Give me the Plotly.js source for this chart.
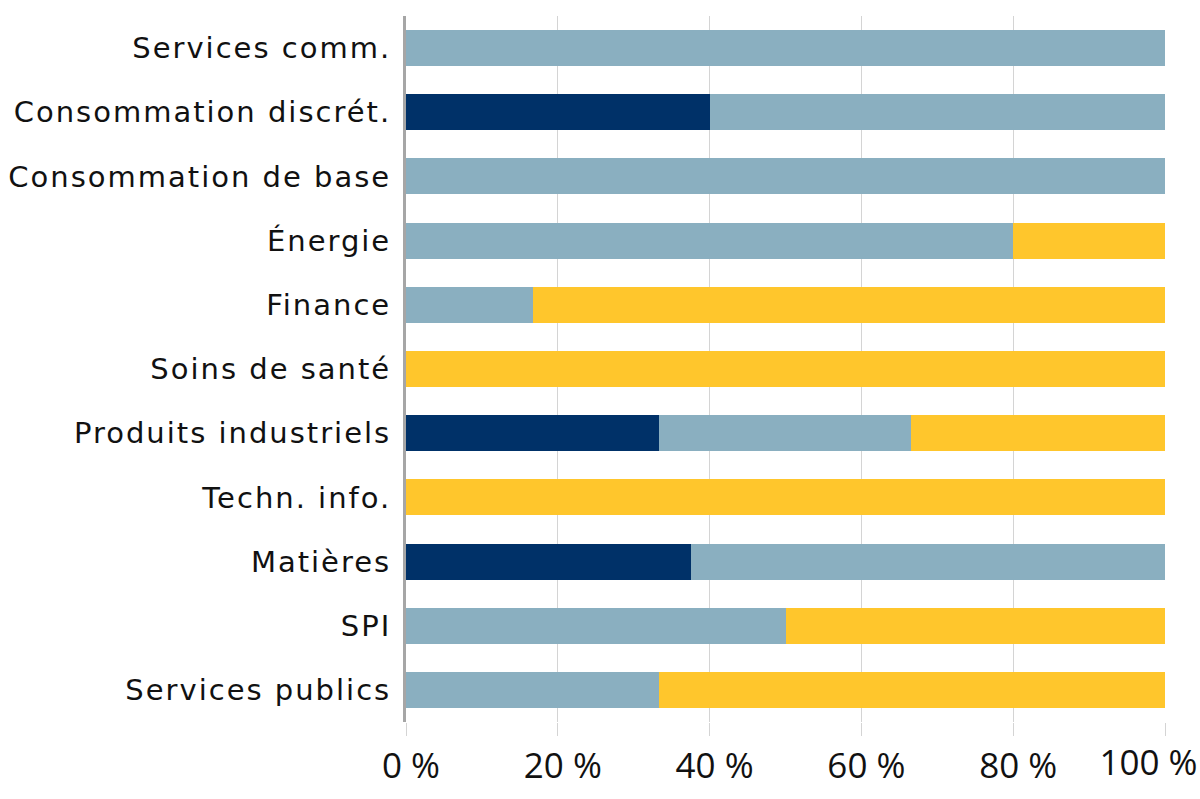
<!DOCTYPE html>
<html><head><meta charset="utf-8">
<script src="https://cdn.plot.ly/plotly-3.0.1.min.js"></script>
<style>html,body{margin:0;padding:0;background:#fff}#chart{width:1200px;height:799px}
.ytick text{letter-spacing:2px;}</style>
</head><body><div id="chart"></div>
<script>
const categories = ["Services comm.","Consommation discrét.","Consommation de base","Énergie","Finance","Soins de santé","Produits industriels","Techn. info.","Matières","SPI","Services publics"];
const seriesNavy   = [0, 40, 0, 0, 0, 0, 33.3, 0, 37.5, 0, 0];
const seriesBlue   = [100, 60, 100, 80, 16.7, 0, 33.3, 0, 62.5, 50, 33.3];
const seriesYellow = [0, 0, 0, 20, 83.3, 100, 33.4, 100, 0, 50, 66.7];
const xTickVals = [0, 20, 40, 60, 80, 100];
const xTickText = ["0 %","20 %","40 %","60 %","80 %","100 %"];

const last = xTickVals.length - 1;
const colors = ["#003168", "#8AAFC0", "#FFC62C"];
const names = ["Série 1", "Série 2", "Série 3"];
const traces = [seriesNavy, seriesBlue, seriesYellow].map((v, i) => ({
  type: "bar", orientation: "h", x: v, y: categories, name: names[i],
  marker: {color: colors[i], line: {width: 0}}, hoverinfo: "x+y"
}));
// invisible helper so that the overlay axis (carrying the last tick label) is drawn
traces.push({
  type: "scatter", mode: "markers", xaxis: "x2", yaxis: "y",
  x: [xTickVals[last]], y: [categories[0]],
  marker: {opacity: 0, size: 1}, hoverinfo: "skip", showlegend: false
});

const tickFont = {family: "Open Sans", size: 35, color: "#111"};
const layout = {
  width: 1200, height: 799,
  margin: {l: 406, r: 35, t: 16, b: 77},
  barmode: "stack", bargap: 0.44, showlegend: false,
  paper_bgcolor: "#fff", plot_bgcolor: "#fff",
  xaxis: {
    range: [0, 100], tickvals: xTickVals,
    ticktext: xTickText.map((t, i) => i === last ? "" : t),
    showgrid: true, gridcolor: "#D4D4D4", gridwidth: 1,
    ticks: "outside", ticklen: 13, tickcolor: "#D4D4D4", tickwidth: 1,
    zeroline: false, showline: false, ticklabelshift: 5,
    tickfont: tickFont, fixedrange: true
  },
  // last label kept inside the frame (right-aligned), as in the original
  xaxis2: {
    overlaying: "x", anchor: "y", side: "bottom", range: [0, 100],
    tickvals: [xTickVals[last]], ticktext: [xTickText[last]],
    ticklabelposition: "outside left", ticklabelshift: 33, ticklabelstandoff: 10,
    ticks: "outside", ticklen: 13, tickcolor: "rgba(0,0,0,0)",
    showgrid: false, zeroline: false, showline: false,
    tickfont: tickFont, fixedrange: true
  },
  yaxis: {
    categoryorder: "array", categoryarray: categories,
    range: [categories.length - 0.5, -0.5], autorange: false,
    showline: true, linecolor: "#A6A6A6", linewidth: 3,
    ticks: "", ticklabelstandoff: 6, showgrid: false,
    tickfont: {family: "DejaVu Sans, sans-serif", size: 29, color: "#111"},
    fixedrange: true
  }
};
Plotly.newPlot("chart", traces, layout, {displayModeBar: false, staticPlot: true});
</script></body></html>
